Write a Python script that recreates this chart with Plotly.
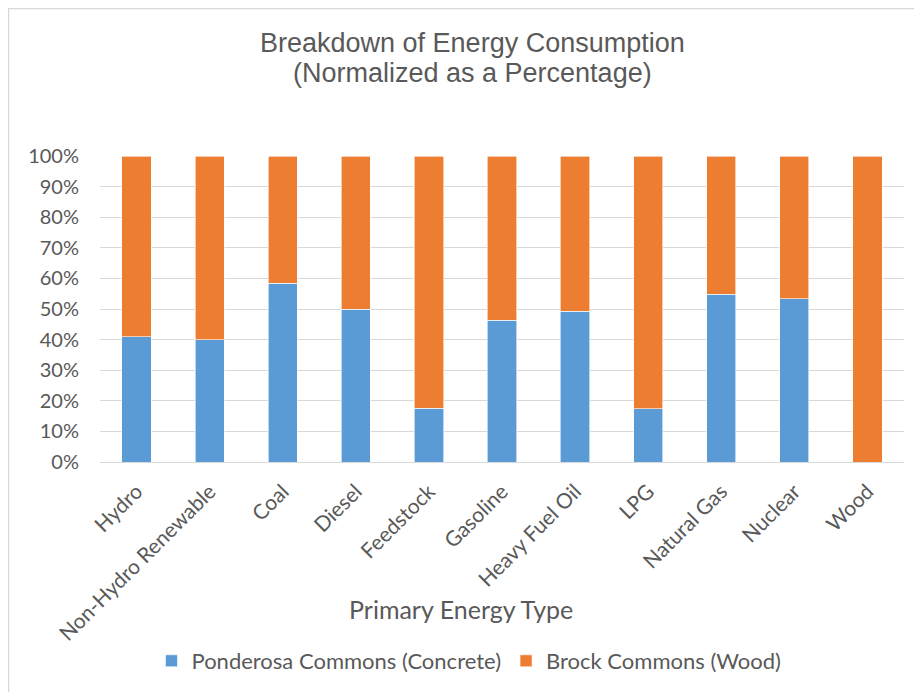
import plotly.graph_objects as go

categories = ["Hydro", "Non-Hydro Renewable", "Coal", "Diesel", "Feedstock", "Gasoline",
              "Heavy Fuel Oil", "LPG", "Natural Gas", "Nuclear", "Wood"]
ponderosa = [0.409, 0.400, 0.584, 0.499, 0.175, 0.464, 0.492, 0.174, 0.548, 0.534, 0.0]
brock = [1 - v for v in ponderosa]

# page body has an 8px margin, so the figure is sized to fit inside the window
W, H = 914, 684
L, T = 92, 148
PR, PB = 896, 454  # plot right / bottom in figure pixels
R, B = W - PR, H - PB
pw, ph = PR - L, PB - T

def px(x):
    return (x - L) / pw

def py(y):
    return 1 - (y - T) / ph

fig = go.Figure()
fig.add_trace(go.Bar(x=categories, y=ponderosa, name="Ponderosa Commons (Concrete)",
                     marker=dict(color="#5b9bd5", line=dict(color="#ffffff", width=0.6))))
fig.add_trace(go.Bar(x=categories, y=brock, name="Brock Commons (Wood)",
                     marker=dict(color="#ed7d31", line=dict(color="#ffffff", width=0.6))))

fnt = "Lato, Calibri, sans-serif"
grey = "#595959"

fig.update_layout(
    width=W, height=H, barmode="stack", bargap=0.6,
    margin=dict(l=L, r=R, t=T, b=B, autoexpand=False),
    paper_bgcolor="white", plot_bgcolor="white",
    yaxis=dict(range=[0, 1], dtick=0.1, tickformat=".0%", gridcolor="#d9d9d9", gridwidth=1,
               zeroline=False, showline=False, ticks="", automargin=False,
               ticklabelstandoff=20,
               tickfont=dict(family=fnt, size=20, color=grey)),
    xaxis=dict(tickangle=-45, showline=True, linecolor="#d9d9d9", linewidth=1, ticks="",
               automargin=False, ticklabelstandoff=8,
               tickfont=dict(family=fnt, size=21, color=grey)),
    legend=dict(orientation="h", x=461 / W, xanchor="center", xref="container",
                y=1 - 653 / H, yanchor="middle", yref="container",
                font=dict(family=fnt, size=22, color=grey), traceorder="normal",
                itemwidth=30),
    showlegend=True,
)

tfont = dict(family="Liberation Sans, Arial, sans-serif", size=27, color=grey)
fig.add_annotation(text="Breakdown of Energy Consumption", xref="paper", yref="paper",
                   x=px(464), y=py(35), showarrow=False, xanchor="center", yanchor="middle",
                   font=tfont)
fig.add_annotation(text="(Normalized as a Percentage)", xref="paper", yref="paper",
                   x=px(464), y=py(65), showarrow=False, xanchor="center", yanchor="middle",
                   font=tfont)

fig.add_annotation(text="Primary Energy Type", xref="paper", yref="paper",
                   x=px(453), y=py(601), showarrow=False,
                   xanchor="center", yanchor="middle",
                   font=dict(family=fnt, size=25, color=grey))

fig.add_shape(type="rect", xref="paper", yref="paper",
              x0=px(0.5), x1=px(930), y0=py(700), y1=py(0.5),
              line=dict(color="#d9d9d9", width=1.5), fillcolor="rgba(0,0,0,0)", layer="below")

fig.write_html("out.html")
